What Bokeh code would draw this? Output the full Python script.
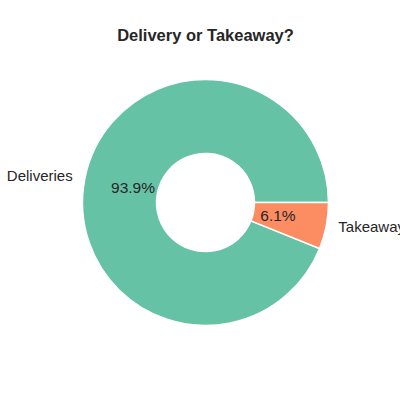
import math
from bokeh.plotting import figure
from bokeh.models import Range1d, ColumnDataSource
from bokeh.core.properties import value
from bokeh.embed import file_html
from bokeh.resources import INLINE

categories = ["Deliveries", "Takeaway"]
shares = [93.9, 6.1]
colors = ["#66c2a5", "#fc8d62"]
title_text = "Delivery or Takeaway?"

W = H = 400
p = figure(width=W, height=H, output_backend="svg", toolbar_location=None,
           x_range=Range1d(0, 400), y_range=Range1d(0, 400), min_border=0)
p.axis.visible = False
p.grid.visible = False
p.outline_line_color = None
p.background_fill_color = "white"
p.border_fill_color = "white"

cx, cy = 205, 198
R_out, R_in = 123, 49

total = sum(shares)
starts, ends, mids = [], [], []
acc = 0.0
for s in shares:
    a0 = 2 * math.pi * acc / total
    acc += s
    a1 = 2 * math.pi * acc / total
    starts.append(a0); ends.append(a1); mids.append((a0 + a1) / 2)

src = ColumnDataSource(dict(start=starts, end=ends, color=colors))
p.annular_wedge(x=cx, y=cy, inner_radius=R_in, outer_radius=R_out,
                start_angle="start", end_angle="end", fill_color="color",
                line_color="white", line_width=1.5, source=src)

font = value("Liberation Sans")
txt_color = "#262626"
lx, ly, lalign = [], [], []
px, py, ptxt = [], [], []
for cat, s, m in zip(categories, shares, mids):
    lx.append(cx + 1.1 * R_out * math.cos(m))
    ly.append(cy + 1.1 * R_out * math.sin(m) + 1.5)
    lalign.append("right" if math.cos(m) < 0 else "left")
    px.append(cx + 0.6 * R_out * math.cos(m))
    py.append(cy + 0.6 * R_out * math.sin(m) + 1)
    ptxt.append(f"{s:.1f}%")

p.text(x=lx, y=ly, text=categories, text_align=lalign, text_baseline="middle",
       text_font=font, text_font_size="15px", text_color=txt_color)
p.text(x=px, y=py, text=ptxt, text_align="center", text_baseline="middle",
       text_font=font, text_font_size="15.5px", text_color=txt_color)
p.text(x=[cx], y=[366], text=[title_text], text_align="center", text_baseline="middle",
       text_font=font, text_font_size="16.5px", text_font_style="bold", text_color=txt_color)

open("out.html", "w").write(file_html(p, INLINE))
